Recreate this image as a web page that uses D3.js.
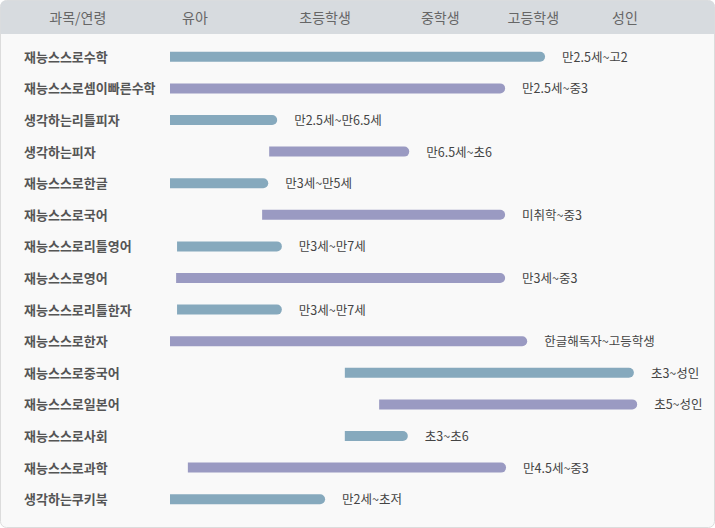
<!DOCTYPE html>
<html><head><meta charset="utf-8">
<script src="https://cdn.jsdelivr.net/npm/d3@7"></script>
<style>body{margin:0;background:#fff;font-family:"Noto Sans CJK KR",sans-serif;}</style>
</head><body><svg id="chart" width="715" height="528"></svg>
<script>
// subjects, bar start/end on a 0-100 age axis, range labels
var subjects = ["재능스스로수학","재능스스로셈이빠른수학","생각하는리틀피자","생각하는피자","재능스스로한글","재능스스로국어","재능스스로리틀영어","재능스스로영어","재능스스로리틀한자","재능스스로한자","재능스스로중국어","재능스스로일본어","재능스스로사회","재능스스로과학","생각하는쿠키북"];
var starts = [0,0,0,21.1,0,19.6,1.5,1.3,1.5,0,37.2,44.5,37.2,3.8,0];
var ends = [79.8,71.3,22.8,50.9,20.9,71.3,23.8,71.3,23.8,76,98.7,99.4,50.6,71.5,33];
var ranges = ["만2.5세~고2","만2.5세~중3","만2.5세~만6.5세","만6.5세~초6","만3세~만5세","미취학~중3","만3세~만7세","만3세~중3","만3세~만7세","한글해독자~고등학생","초3~성인","초5~성인","초3~초6","만4.5세~중3","만2세~초저"];
var headers = ["과목/연령","유아","초등학생","중학생","고등학생","성인"];
var headerPos = [-19.6,5.3,33,57.5,77.3,96.8];

var svg = d3.select("#chart");
var x = d3.scaleLinear().domain([0,100]).range([170,640]);
var y = d3.scaleBand().domain(subjects).range([41,515]);

//background panel with header band
svg.append("rect").attr("x",0.5).attr("y",0.5).attr("width",714).attr("height",527).attr("rx",6).attr("fill","#f9f9f9").attr("stroke","#dcdcdc");
svg.append("path").attr("d","M0.5,34 V6.5 Q0.5,0.5 6.5,0.5 H708.5 Q714.5,0.5 714.5,6.5 V34 Z").attr("fill","#d7dbdf");
svg.selectAll(".hd").data(headers).enter().append("text")
    .attr("x",function(d,i){return x(headerPos[i]);}).attr("y",23)
    .attr("text-anchor","middle").attr("font-size",14).attr("fill","#666").text(function(d){return d;});

var row = svg.selectAll(".row").data(subjects).enter().append("g")
    .attr("transform",function(d){return "translate(0,"+(y(d)+y.bandwidth()/2)+")";});
row.append("text").attr("x",24).attr("y",5).attr("font-size",13).attr("font-weight","bold").attr("fill","#555").text(function(d){return d;});
//bar: square left, rounded right
row.append("path").attr("fill",function(d,i){return i%2?"#9a9ac2":"#86a9bd";})
    .attr("d",function(d,i){var a=x(starts[i]),b=x(ends[i]);return "M"+a+",-5 H"+(b-5)+" A5,5 0 0 1 "+(b-5)+",5 H"+a+" Z";});
row.append("text").attr("x",function(d,i){return x(ends[i])+17;}).attr("y",5).attr("font-size",12.5).attr("fill","#444")
    .text(function(d,i){return ranges[i];});
</script></body></html>
